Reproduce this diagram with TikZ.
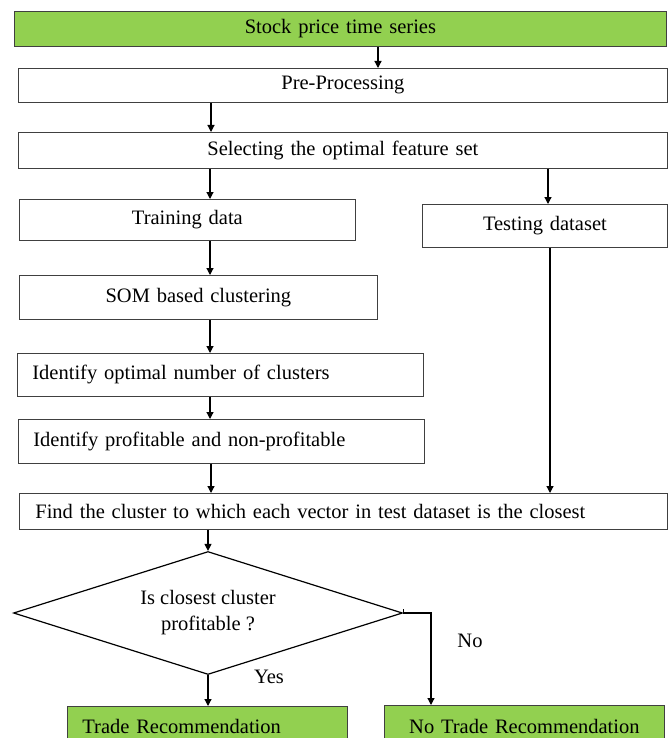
\documentclass[tikz,border=0pt]{standalone}
\usepackage{fontspec}
\setmainfont{Liberation Serif}
\usetikzlibrary{shapes.geometric,arrows.meta}
\definecolor{leafgreen}{HTML}{92D050}

\begin{document}
\begin{tikzpicture}[x=1pt,y=-1pt]
    \tikzstyle{box}=[draw=black!75, line width=0.8pt, anchor=north west, inner xsep=0pt, inner ysep=0pt, align=center, font=\fontsize{20.5}{24}\selectfont]
    \tikzstyle{lbox}=[box, align=left, inner xsep=15pt]
    \tikzstyle{goal}=[fill=leafgreen]
    \tikzstyle{arr}=[-{Triangle[length=7pt,width=7pt]}, line width=1.2pt]
    \tikzstyle{lbl}=[font=\fontsize{20.5}{24}\selectfont]

    \clip (0,0) rectangle (670,738);

    \node[box, goal, text width=652pt, minimum height=35pt] (stock) at (14,11) {Stock price time series};
    \node[box, text width=649pt, minimum height=34pt] (pre) at (18,68) {Pre-Processing};
    \node[box, text width=649pt, minimum height=36pt] (sel) at (18,132) {Selecting the optimal feature set};
    \node[box, text width=336pt, minimum height=41pt] (train) at (19,199) {Training data};
    \node[box, text width=245pt, minimum height=43pt] (test) at (422,204) {Testing dataset};
    \node[box, text width=358pt, minimum height=44pt] (som) at (19,275) {SOM based clustering};
    \node[lbox, text width=376pt, minimum height=43pt] (opt) at (17,353) {Identify optimal number of clusters};
    \node[lbox, text width=376pt, minimum height=44pt] (prof) at (18,419) {Identify profitable and non-profitable};
    \node[lbox, inner xsep=16pt, text width=616pt, minimum height=36pt] (find) at (19,493) {Find the cluster to which each vector in test dataset is the closest};
    \node[diamond, draw, line width=1.2pt, aspect=3.2, minimum width=389pt, minimum height=123pt, inner sep=0pt, align=center, font=\fontsize{20.5}{26}\selectfont] (dec) at (208,613) {Is closest cluster\\profitable ?};
    \node[lbox, goal, text width=250pt, minimum height=40pt] (trade) at (67,706) {Trade Recommendation};
    \node[box, goal, text width=280pt, minimum height=42pt] (notrade) at (384,705) {No Trade Recommendation};

    \node[lbl] (yes) at (269,677) {Yes};
    \node[lbl] (no) at (470,641) {No};
    \coordinate (noturn) at (431,613);

    \draw[arr] (stock.south -| 378,0) -- (pre.north -| 378,0);
    \draw[arr] (pre.south -| 211,0) -- (sel.north -| 211,0);
    \draw[arr] (sel.south -| 210,0) -- (train.north -| 210,0);
    \draw[arr] (sel.south -| 548,0) -- (test.north -| 548,0);
    \draw[arr] (train.south -| 210,0) -- (som.north -| 210,0);
    \draw[arr] (som.south -| 210,0) -- (opt.north -| 210,0);
    \draw[arr] (opt.south -| 210,0) -- (prof.north -| 210,0);
    \draw[arr] (prof.south -| 211,0) -- (find.north -| 211,0);
    \draw[arr] (test.south -| 550,0) -- (find.north -| 550,0);
    \draw[arr] (find.south -| dec.north) -- (dec.north);
    \draw[arr] (dec.south) -- (trade.north -| dec.south);
    \draw[arr] (dec.east) -- (noturn) -- (noturn |- notrade.north);
    \draw[line width=1.2pt] (dec.east) -- ++(0,-4);
\end{tikzpicture}
\end{document}
